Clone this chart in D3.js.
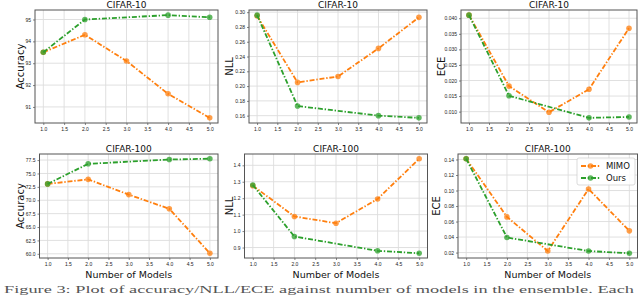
<!DOCTYPE html>
<html>
<head>
<meta charset="utf-8">
<script src="https://cdn.jsdelivr.net/npm/d3@7"></script>
<style>
  body { margin: 0; background: #fff; }
  svg { display: block; font-family: "DejaVu Sans", sans-serif; }
  .tick text { font-size: 5px; fill: #222; }
</style>
</head>
<body>
<div id="root"></div>
<script>
// x values: MIMO has every ensemble size, ours skips 3
const modelsMimo = [1, 2, 3, 4, 5];
const modelsOurs = [1, 2, 4, 5];
const xTicks = [1.0, 1.5, 2.0, 2.5, 3.0, 3.5, 4.0, 4.5, 5.0];

const acc10Mimo = [93.5, 94.3, 93.1, 91.6, 90.5];
const acc10Ours = [93.5, 95.0, 95.2, 95.1];
const nll10Mimo = [0.295, 0.205, 0.213, 0.251, 0.293];
const nll10Ours = [0.296, 0.173, 0.160, 0.157];
const ece10Mimo = [0.041, 0.0182, 0.0098, 0.0172, 0.0368];
const ece10Ours = [0.041, 0.0151, 0.0080, 0.0083];

const acc100Mimo = [73.05, 73.9, 71.05, 68.4, 60.1];
const acc100Ours = [73.05, 76.8, 77.6, 77.75];
const nll100Mimo = [1.276, 1.089, 1.048, 1.195, 1.44];
const nll100Ours = [1.28, 0.967, 0.88, 0.865];
const ece100Mimo = [0.141, 0.066, 0.022, 0.102, 0.048];
const ece100Ours = [0.141, 0.0394, 0.022, 0.0191];

const acc10Ticks = [91, 92, 93, 94, 95];
const nll10Ticks = [0.16, 0.18, 0.20, 0.22, 0.24, 0.26, 0.28, 0.30];
const ece10Ticks = [0.010, 0.015, 0.020, 0.025, 0.030, 0.035, 0.040];
const acc100Ticks = [60.0, 62.5, 65.0, 67.5, 70.0, 72.5, 75.0, 77.5];
const nll100Ticks = [0.9, 1.0, 1.1, 1.2, 1.3, 1.4];
const ece100Ticks = [0.02, 0.04, 0.06, 0.08, 0.10, 0.12, 0.14];

const seriesNames = ["MIMO", "Ours"];
const colors = { MIMO: "#ff7f0e", Ours: "#2ca02c" };

// panel boxes (plot area in px)
const panels = [
  { title: "CIFAR-10", ylab: "Accuracy", mimo: acc10Mimo, ours: acc10Ours, ticks: acc10Ticks, fmt: d3.format("d"),
    x0: 35, x1: 218, y0: 10, y1: 123, labX: 20 },
  { title: "CIFAR-10", ylab: "NLL", mimo: nll10Mimo, ours: nll10Ours, ticks: nll10Ticks, fmt: d3.format(".2f"),
    x0: 249, x1: 427, y0: 10, y1: 123, labX: 229 },
  { title: "CIFAR-10", ylab: "ECE", mimo: ece10Mimo, ours: ece10Ours, ticks: ece10Ticks, fmt: d3.format(".3f"),
    x0: 461, x1: 637, y0: 10, y1: 123, labX: 441 },
  { title: "CIFAR-100", ylab: "Accuracy", mimo: acc100Mimo, ours: acc100Ours, ticks: acc100Ticks, fmt: d3.format(".1f"),
    x0: 39.5, x1: 218, y0: 154, y1: 258, labX: 20, xlab: true },
  { title: "CIFAR-100", ylab: "NLL", mimo: nll100Mimo, ours: nll100Ours, ticks: nll100Ticks, fmt: d3.format(".1f"),
    x0: 244.5, x1: 427.5, y0: 154, y1: 258, labX: 229, xlab: true },
  { title: "CIFAR-100", ylab: "ECE", mimo: ece100Mimo, ours: ece100Ours, ticks: ece100Ticks, fmt: d3.format(".2f"),
    x0: 458, x1: 637.5, y0: 154, y1: 258, labX: 436, xlab: true, legend: true }
];

const svg = d3.select("#root").append("svg")
  .attr("width", 640).attr("height", 296);

const dash = "5,1.8,1.4,1.8";

panels.forEach(p => {
  const xScale = d3.scaleLinear().domain([0.8, 5.2]).range([p.x0, p.x1]);
  const ext = d3.extent(p.mimo.concat(p.ours));
  const pad = (ext[1] - ext[0]) * 0.05;
  const yScale = d3.scaleLinear().domain([ext[0] - pad, ext[1] + pad]).range([p.y1, p.y0]);

  const g = svg.append("g");

  // grid
  g.append("g").selectAll("line.gx").data(xTicks).join("line")
    .attr("x1", d => xScale(d)).attr("x2", d => xScale(d))
    .attr("y1", p.y0).attr("y2", p.y1)
    .attr("stroke", "#dcdcdc").attr("stroke-width", 0.9);
  g.append("g").selectAll("line.gy").data(p.ticks).join("line")
    .attr("y1", d => yScale(d)).attr("y2", d => yScale(d))
    .attr("x1", p.x0).attr("x2", p.x1)
    .attr("stroke", "#dcdcdc").attr("stroke-width", 0.9);

  // axes
  const xAxis = d3.axisBottom(xScale).tickValues(xTicks).tickFormat(d3.format(".1f")).tickSize(2).tickPadding(2);
  const yAxis = d3.axisLeft(yScale).tickValues(p.ticks).tickFormat(p.fmt).tickSize(2).tickPadding(2);
  g.append("g").attr("transform", `translate(0,${p.y1})`).call(xAxis)
    .call(a => a.select(".domain").remove())
    .selectAll("line").attr("stroke", "#333").attr("stroke-width", 0.6);
  g.append("g").attr("transform", `translate(${p.x0},0)`).call(yAxis)
    .call(a => a.select(".domain").remove())
    .selectAll("line").attr("stroke", "#333").attr("stroke-width", 0.6);

  // frame
  g.append("rect")
    .attr("x", p.x0).attr("y", p.y0)
    .attr("width", p.x1 - p.x0).attr("height", p.y1 - p.y0)
    .attr("fill", "none").attr("stroke", "#555").attr("stroke-width", 1);

  // series
  const line = d3.line().x(d => xScale(d[0])).y(d => yScale(d[1]));
  const sets = [
    { name: "MIMO", pts: modelsMimo.map((m, i) => [m, p.mimo[i]]) },
    { name: "Ours", pts: modelsOurs.map((m, i) => [m, p.ours[i]]) }
  ];
  sets.forEach(s => {
    g.append("path").datum(s.pts)
      .attr("d", line)
      .attr("fill", "none")
      .attr("stroke", colors[s.name])
      .attr("stroke-width", 1.8)
      .attr("stroke-dasharray", dash);
    g.append("g").selectAll("circle").data(s.pts).join("circle")
      .attr("cx", d => xScale(d[0])).attr("cy", d => yScale(d[1]))
      .attr("r", 2.8)
      .attr("fill", colors[s.name])
      .attr("fill-opacity", 0.75);
  });

  // title
  svg.append("text")
    .attr("x", (p.x0 + p.x1) / 2).attr("y", p.y0 - 2.5)
    .attr("text-anchor", "middle")
    .style("font-size", "9px").attr("fill", "#111")
    .text(p.title);

  // y label
  svg.append("text")
    .attr("transform", `translate(${p.labX},${(p.y0 + p.y1) / 2}) rotate(-90)`)
    .attr("text-anchor", "middle")
    .attr("dy", "0.35em")
    .style("font-size", "10px").attr("fill", "#111")
    .text(p.ylab);

  if (p.xlab) {
    svg.append("text")
      .attr("x", (p.x0 + p.x1) / 2).attr("y", 278)
      .attr("text-anchor", "middle")
      .style("font-size", "9.5px").attr("fill", "#111")
      .text("Number of Models");
  }

  if (p.legend) {
    const lg = svg.append("g").attr("transform", "translate(577,158)");
    lg.append("rect")
      .attr("width", 58).attr("height", 27).attr("rx", 2)
      .attr("fill", "#fff").attr("fill-opacity", 0.85)
      .attr("stroke", "#ccc").attr("stroke-width", 0.7);
    seriesNames.forEach((name, i) => {
      const yy = 8 + i * 12;
      lg.append("line")
        .attr("x1", 4).attr("x2", 23).attr("y1", yy).attr("y2", yy)
        .attr("stroke", colors[name]).attr("stroke-width", 1.8)
        .attr("stroke-dasharray", dash);
      lg.append("circle").attr("cx", 13.5).attr("cy", yy).attr("r", 2.8)
        .attr("fill", colors[name]).attr("fill-opacity", 0.75);
      lg.append("text").attr("x", 29).attr("y", yy).attr("dy", "0.35em")
        .style("font-size", "8.5px").attr("fill", "#111")
        .text(name);
    });
  }
});

// figure caption along the bottom edge
svg.append("text")
  .attr("x", 4).attr("y", 293)
  .attr("textLength", 630).attr("lengthAdjust", "spacingAndGlyphs")
  .style("font-family", "'Liberation Serif', serif")
  .style("font-size", "10.5px").attr("fill", "#555")
  .text("Figure 3: Plot of accuracy/NLL/ECE against number of models in the ensemble. Each");
</script>
</body>
</html>
